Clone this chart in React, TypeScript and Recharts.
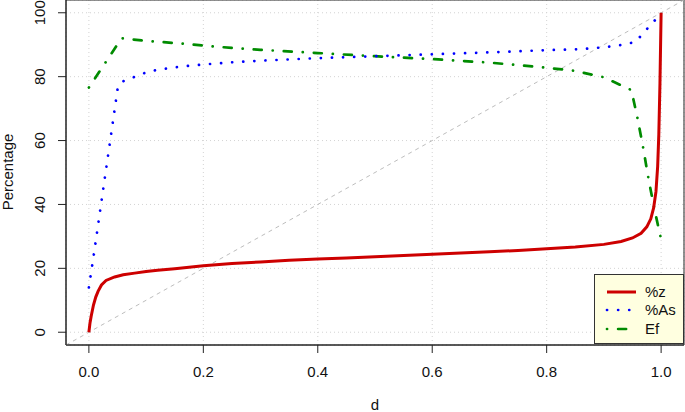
import { LineChart, Line, XAxis, YAxis, CartesianGrid, ReferenceLine, ReferenceArea } from "recharts";

// d values and percentages
const dZ = [0, 0.002, 0.004, 0.008, 0.012, 0.016, 0.022, 0.03, 0.045, 0.06, 0.08, 0.1, 0.12, 0.15, 0.2, 0.25, 0.3, 0.35, 0.4, 0.45, 0.5, 0.55, 0.6, 0.65, 0.7, 0.75, 0.8, 0.85, 0.9, 0.93, 0.95, 0.965, 0.975, 0.982, 0.987, 0.991, 0.994, 0.996, 0.998, 1.0];
const pctZ = [0, 3, 5, 8.5, 11, 12.8, 14.8, 16.2, 17.3, 18, 18.5, 19, 19.4, 19.9, 20.8, 21.5, 22, 22.5, 22.9, 23.2, 23.6, 24, 24.4, 24.8, 25.2, 25.6, 26.1, 26.7, 27.5, 28.4, 29.5, 31, 33, 35.5, 39, 44, 52, 62, 78, 100];

const dAs = [0, 0.01, 0.02, 0.03, 0.04, 0.05, 0.056, 0.075, 0.093, 0.11, 0.13, 0.15, 0.17, 0.2, 0.25, 0.3, 0.4, 0.5, 0.6, 0.7, 0.8, 0.86, 0.9, 0.935, 0.955, 0.967, 0.979, 0.992, 1.0];
const pctAs = [14, 26, 38.5, 51, 63.5, 76, 78.3, 79.6, 80.9, 81.8, 82.4, 82.9, 83.3, 83.8, 84.5, 85, 85.8, 86.4, 87, 87.6, 88.3, 88.6, 89.2, 90, 90.9, 93.2, 95.7, 98.2, 100];

const dEf = [0, 0.057, 0.1, 0.16, 0.22, 0.3, 0.4, 0.5, 0.6, 0.7, 0.795, 0.85, 0.9, 0.948, 0.959, 0.969, 0.978, 0.988, 1.0];
const pctEf = [76.6, 92, 91.2, 90.4, 89.4, 88.4, 87.4, 86.4, 85.5, 84.4, 82.9, 81.8, 79.8, 75.8, 66.8, 57.4, 48, 38.8, 29];

const xTicks = [0, 0.2, 0.4, 0.6, 0.8, 1.0];
const yTicks = [0, 20, 40, 60, 80, 100];
const xDomain = [-0.04, 1.04];
const yDomain = [-4, 104];

const toSeries = (xs: number[], ys: number[]) => xs.map((d, i) => ({ d, v: ys[i] }));

const FONT = "'Liberation Sans', Arial, Helvetica, sans-serif";
const INK = "#111";

const BLUE_DASH = "0.1 11";
const GREEN_DASH = "0.1 11 8 11";

function XTick({ x, payload }: any) {
  return (
    <text x={x} y={377} textAnchor="middle" fontSize={15} fill={INK} fontFamily={FONT}>
      {Number(payload.value).toFixed(1)}
    </text>
  );
}

function YTick({ y, payload }: any) {
  return (
    <text x={45} y={y} transform={`rotate(-90 45 ${y})`} textAnchor="middle" fontSize={15} fill={INK} fontFamily={FONT}>
      {payload.value}
    </text>
  );
}

function Legendbox() {
  const rows = [
    { name: "%z", color: "#CD0000", dash: undefined, y: 18 },
    { name: "%As", color: "#0000FF", dash: BLUE_DASH, y: 36 },
    { name: "Ef", color: "#008B00", dash: GREEN_DASH, y: 55 },
  ];
  return (
    <div
      style={{
        position: "absolute", left: 594, top: 274, width: 90, height: 70,
        background: "#FFFFE0", border: "1px solid #333", boxSizing: "border-box",
      }}
    >
      <svg width={90} height={70} style={{ display: "block", position: "absolute", left: -1, top: -1 }}>
        {rows.map((r) => (
          <g key={r.name}>
            <line x1={13} x2={42} y1={r.y} y2={r.y} stroke={r.color} strokeWidth={r.dash ? 2.7 : 3}
              strokeDasharray={r.dash} strokeLinecap={r.dash ? "round" : "butt"} />
            <text x={51} y={r.y + 5} fontSize={15} fill={INK} fontFamily={FONT}>{r.name}</text>
          </g>
        ))}
      </svg>
    </div>
  );
}

export default function App() {
  return (
    <div style={{ position: "absolute", left: 0, top: 0, width: 685, height: 412, background: "#fff", fontFamily: FONT }}>
      <LineChart width={685} height={412} margin={{ top: 0, right: 1, bottom: 0, left: 0 }}>
        <CartesianGrid stroke="#d3d3d3" strokeDasharray="1 3" />
        <XAxis
          type="number" dataKey="d" domain={xDomain} ticks={xTicks} allowDataOverflow
          height={67} tickSize={8} stroke="#222" tick={XTick}
          label={() => (
            <text x={375} y={410} textAnchor="middle" fontSize={15} fill={INK} fontFamily={FONT}>d</text>
          )}
        />
        <YAxis
          type="number" domain={yDomain} ticks={yTicks} allowDataOverflow
          width={66} tickSize={8} stroke="#222" tick={YTick}
          label={() => (
            <text x={13} y={172} transform="rotate(-90 13 172)" textAnchor="middle" fontSize={15} fill={INK} fontFamily={FONT}>
              Percentage
            </text>
          )}
        />
        <ReferenceArea x1={xDomain[0]} x2={xDomain[1]} y1={yDomain[0]} y2={yDomain[1]} fill="none" stroke="#222" strokeWidth={1} />
        <ReferenceLine
          segment={[{ x: xDomain[0], y: yDomain[0] }, { x: xDomain[1], y: yDomain[1] }]}
          stroke="#bdbdbd" strokeDasharray="4 4" strokeWidth={1}
        />
        <Line data={toSeries(dEf, pctEf)} dataKey="v" type="linear" stroke="#008B00" strokeWidth={2.7}
          strokeDasharray={GREEN_DASH} strokeLinecap="round" dot={false} isAnimationActive={false} />
        <Line data={toSeries(dAs, pctAs)} dataKey="v" type="linear" stroke="#0000FF" strokeWidth={2.7}
          strokeDasharray={BLUE_DASH} strokeLinecap="round" dot={false} isAnimationActive={false} />
        <Line data={toSeries(dZ, pctZ)} dataKey="v" type="linear" stroke="#CD0000" strokeWidth={3}
          dot={false} isAnimationActive={false} />
      </LineChart>
      <Legendbox />
    </div>
  );
}
